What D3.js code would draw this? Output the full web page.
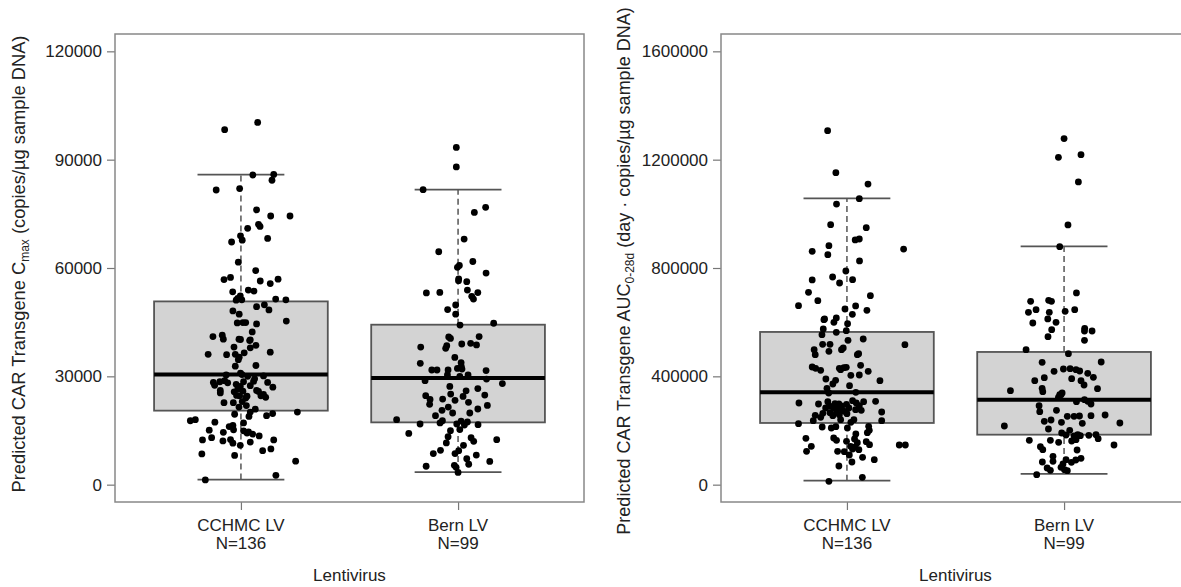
<!DOCTYPE html>
<html>
<head>
<meta charset="utf-8">
<script src="https://cdn.jsdelivr.net/npm/d3@7"></script>
<style>
  body { margin: 0; background: #fff; }
  text { font-family: "Liberation Sans", Arial, sans-serif; fill: #222; }
</style>
</head>
<body>
<script>
var W = 1181, H = 587;

var categories = ["CCHMC LV", "Bern LV"];
var counts = [136, 99];
var cmaxTicks = [0, 30000, 60000, 90000, 120000];
var aucTicks = [0, 400000, 800000, 1200000, 1600000];

// [lower whisker, Q1, median, Q3, upper whisker]
var cmaxStats = [[1400, 20500, 30500, 50750, 85850], [3500, 17250, 29550, 44300, 81700]];
var aucStats = [[14800, 227800, 340900, 563900, 1057000], [39500, 184600, 313900, 490000, 880000]];

// [jitter (category units), value]
var cmaxCchmc = [[0.077,100300],[-0.075,98300],[0.055,85750],[0.151,85900],[0.143,84300],[-0.114,81600],[-0.006,82000],[0.072,76100],[0.137,74400],[0.226,74400],
  [0.031,71000],[0.081,72100],[0.088,71500],[-0.002,68900],[0.006,67700],[-0.043,67200],[0.123,68200],[-0.012,61600],[0.068,59300],[-0.078,56800],
  [-0.048,57400],[0.089,56400],[0.135,55700],[0.171,56900],[-0.038,53400],[0.034,53900],[0.060,53600],[-0.003,52300],[-0.015,51600],[-0.022,51100],
  [0.160,51400],[0.207,51200],[0.072,49300],[0.108,49800],[0.129,48400],[-0.037,48100],[-0.008,47200],[-0.017,44800],[0.009,44900],[0.022,44900],
  [0.072,44500],[0.209,45300],[0.052,42300],[-0.129,41000],[-0.086,41400],[-0.081,40300],[-0.009,40300],[-0.002,40200],[0.040,39900],[0.069,38600],
  [-0.032,38100],[0.043,37900],[-0.151,36100],[-0.066,36000],[-0.026,36100],[-0.008,35300],[0.015,36500],[0.135,36700],[-0.012,34600],[0.069,33000],
  [-0.068,30400],[-0.002,30900],[0.031,30000],[0.063,29300],[0.104,30100],[-0.127,28300],[-0.097,28500],[-0.075,28800],[-0.121,27500],[-0.022,27800],
  [0.012,28500],[0.043,27400],[0.123,28300],[0.147,27000],[-0.095,26100],[-0.031,25700],[-0.014,26500],[0.009,25900],[0.072,26100],[0.092,24600],
  [0.104,25000],[0.114,24200],[-0.020,24700],[-0.006,24600],[0.028,24500],[-0.078,22700],[-0.035,22700],[0.006,23000],[-0.009,21500],[0.025,21900],
  [0.043,20100],[0.066,20900],[-0.029,19500],[0.118,19100],[0.146,19700],[0.260,20100],[-0.233,17700],[-0.210,18000],[-0.120,17300],[-0.054,16100],
  [-0.037,16400],[-0.146,15100],[-0.081,14500],[0.012,14900],[0.035,14600],[0.054,14000],[0.084,13500],[-0.177,12400],[-0.135,13000],[-0.083,12100],
  [-0.048,12500],[-0.003,10900],[0.043,11800],[0.151,12400],[-0.037,11500],[0.100,9400],[0.138,9900],[-0.180,8500],[-0.029,8100],[0.252,6500],
  [0.161,2600],[-0.164,1300],[0.005,30500],[-0.061,28200],[0.022,24000],[-0.003,27200],[0.058,28600],[-0.026,32800],[0.037,18900],[0.012,17100],
  [0.004,51200],[0.043,40100],[0.081,25800],[-0.095,25400],[0.028,14300],[-0.034,15200]];

var cmaxBern = [[-0.008,93400],[-0.008,88000],[-0.161,81700],[0.127,76800],[0.075,75400],[0.028,68000],[-0.089,64500],[0.068,61800],[0.006,60700],[-0.003,60200],
  [0.129,58600],[0.003,57000],[0.002,56500],[0.040,56200],[0.043,53900],[0.091,53200],[-0.146,53100],[-0.084,53250],[0.063,52150],[0.071,51400],
  [-0.011,49750],[-0.048,48500],[-0.011,47200],[0.009,44200],[0.164,44700],[-0.043,40900],[-0.035,40500],[0.017,38950],[0.058,39150],[0.097,41000],
  [0.085,38700],[-0.052,38500],[-0.057,37750],[-0.172,38100],[-0.015,35250],[0.014,33800],[-0.174,33600],[-0.121,31750],[-0.097,31750],[-0.046,31750],
  [-0.003,32200],[0.018,32000],[0.129,31600],[-0.049,30400],[0.046,30400],[-0.152,28800],[0.131,29250],[0.204,28000],[0.037,26000],[0.091,26600],
  [0.123,24800],[-0.149,24650],[-0.129,23600],[-0.071,23700],[-0.034,25100],[-0.014,23350],[0.048,22800],[0.135,21950],[-0.131,22250],[-0.045,21500],
  [0.091,20950],[-0.074,20600],[-0.025,19850],[-0.104,19100],[-0.283,18000],[-0.175,16800],[-0.083,17100],[-0.072,17700],[-0.006,16800],[0.014,17600],
  [0.029,16500],[0.043,17350],[0.092,16600],[-0.227,14200],[-0.035,14950],[-0.046,13300],[0.060,13000],[0.072,12000],[0.178,12450],[0.025,10900],
  [0.003,9400],[-0.081,9500],[-0.114,8600],[-0.014,8600],[0.084,8200],[0.040,7200],[0.146,6450],[0.049,5650],[-0.147,5100],[-0.017,5350],
  [0.000,3400],[-0.009,4800],[0.008,30000],[-0.038,27200],[0.023,24450],[0.008,15250],[0.054,19850],[-0.054,11550],[0.015,32750]];

var aucCchmc = [[-0.089,1307000],[-0.051,1152000],[0.097,1110000],[0.057,1056000],[-0.048,1036000],[-0.075,960000],[0.089,949000],[0.038,903500],[0.057,907000],[-0.083,882500],
  [0.261,870000],[-0.160,861600],[-0.088,849300],[0.058,826000],[-0.005,789000],[-0.066,766800],[-0.034,744700],[0.026,757000],[-0.160,755800],[-0.177,710200],
  [0.108,697900],[-0.134,679500],[-0.223,661000],[0.040,659800],[-0.009,648700],[0.092,643800],[0.025,629000],[-0.049,615500],[-0.103,611800],[0.003,594500],
  [-0.060,599400],[-0.109,574800],[-0.049,562500],[-0.003,568700],[-0.115,553900],[0.005,533000],[0.075,537900],[0.267,517000],[-0.112,518200],[-0.078,518200],
  [-0.151,498500],[-0.146,480100],[-0.083,492400],[-0.025,498500],[-0.017,504700],[0.048,480100],[0.054,483700],[-0.160,434500],[-0.144,429600],[-0.121,422200],
  [-0.035,429600],[-0.014,432000],[-0.003,433300],[0.063,440700],[0.098,418500],[0.018,403700],[0.057,405000],[-0.097,390200],[-0.052,385300],[0.152,384000],
  [-0.065,371700],[0.012,365600],[-0.092,355700],[0.041,341000],[-0.084,338500],[-0.221,301600],[-0.131,297900],[-0.088,306500],[-0.055,299100],[-0.037,297900],
  [-0.026,290500],[-0.002,296600],[0.026,310200],[0.043,301600],[0.057,291700],[0.077,306500],[0.132,307700],[-0.060,283100],[-0.048,267100],[-0.012,270800],
  [0.040,277000],[0.066,274500],[-0.111,263400],[-0.078,265900],[-0.146,256000],[-0.121,248600],[-0.065,254800],[-0.035,258500],[0.000,262200],[0.160,268300],
  [-0.155,236300],[0.018,230200],[0.160,236300],[-0.223,225300],[-0.114,212900],[-0.072,209300],[-0.051,214200],[0.100,215400],[0.094,192000],[0.103,200600],
  [0.041,187100],[-0.189,171100],[-0.061,172300],[-0.048,163700],[-0.002,160000],[0.035,168600],[0.048,155100],[0.089,158800],[-0.164,141600],[-0.186,123100],
  [-0.043,123100],[-0.012,121900],[0.026,131700],[0.038,139100],[0.104,147700],[0.241,146500],[0.269,146500],[0.011,109500],[0.072,100900],[0.126,92300],
  [0.023,83700],[-0.037,68900],[-0.083,12300],[0.071,27100],[-0.045,283100],[-0.022,277000],[0.009,283100],[-0.075,289300],[-0.029,240000],[0.032,240000],
  [0.002,209300],[-0.106,609300],[-0.029,424700],[0.017,141600],[0.055,129200],[-0.098,283100]];

var aucBern = [[0.000,1277700],[-0.026,1208700],[0.078,1218600],[0.066,1117700],[0.018,958900],[-0.020,878900],[0.057,707800],[-0.154,677000],[-0.071,680700],[-0.058,677000],
  [-0.164,636400],[-0.129,646200],[-0.068,636400],[0.005,640100],[0.049,646200],[-0.144,597000],[-0.075,611800],[-0.037,599400],[-0.057,572400],[0.095,577300],
  [0.129,567400],[0.094,567400],[-0.074,546500],[0.094,533000],[-0.175,498500],[0.020,483700],[-0.101,451700],[0.171,453000],[-0.046,418500],[-0.003,427100],
  [0.028,428300],[0.055,424700],[0.072,419700],[0.109,411100],[0.135,396300],[-0.091,395100],[-0.135,384000],[0.035,391400],[0.078,384000],[0.092,368000],
  [0.154,354500],[-0.247,347100],[-0.101,355700],[-0.098,343400],[-0.020,332300],[-0.009,338500],[-0.026,322500],[0.057,306500],[0.094,313900],[0.109,307700],
  [0.124,297900],[-0.115,291700],[-0.112,269600],[-0.035,274500],[0.015,252300],[0.046,252300],[0.071,253600],[0.124,254800],[0.189,257300],[-0.091,233900],
  [-0.060,238800],[-0.012,230200],[0.084,226500],[0.257,227700],[-0.275,216600],[-0.072,205600],[0.026,200600],[-0.011,190800],[0.009,183400],[0.046,179700],
  [0.063,184600],[0.075,180900],[0.114,182200],[0.147,184600],[0.157,169900],[-0.160,163700],[-0.063,163700],[-0.025,156300],[0.035,161200],[0.230,146500],
  [-0.109,140300],[-0.098,129200],[0.060,128000],[-0.051,104600],[0.078,97200],[0.054,91100],[0.009,92300],[-0.051,86200],[-0.100,83700],[-0.005,76300],
  [0.034,82500],[-0.078,61500],[-0.063,52900],[-0.014,64000],[0.015,51700],[-0.126,36900],[0.002,55400],[-0.014,332300],[0.055,166200]];

var svg = d3.select("body").append("svg").attr("width", W).attr("height", H);

function panel(left, right, ticks, stats, groups, labelParts) {
  var top = 34, bottom = 502;
  var pad = (ticks[ticks.length - 1] - ticks[0]) * 0.04;
  var x = d3.scaleLinear().domain([0.42, 2.58]).range([left, right]);
  var y = d3.scaleLinear().domain([ticks[0] - pad, ticks[ticks.length - 1] + pad]).range([bottom, top]);
  var g = svg.append("g");

  // y axis
  var ya = g.append("g").attr("transform", "translate(" + left + ",0)")
    .call(d3.axisLeft(y).tickValues(ticks).tickSize(8).tickPadding(5).tickFormat(d3.format("d")));
  ya.select(".domain").remove();
  ya.selectAll("line").attr("stroke", "#777").attr("stroke-width", 1.2);
  ya.selectAll("text").style("font-size", "17px").attr("fill", "#222");

  // x axis
  var xa = g.append("g").attr("transform", "translate(0," + bottom + ")")
    .call(d3.axisBottom(x).tickValues([1, 2]).tickSize(8).tickFormat(""));
  xa.select(".domain").remove();
  xa.selectAll("line").attr("stroke", "#777").attr("stroke-width", 1.2);

  categories.forEach(function (c, i) {
    g.append("text").attr("x", x(i + 1)).attr("y", 531).attr("text-anchor", "middle")
      .style("font-size", "17px").text(c);
    g.append("text").attr("x", x(i + 1)).attr("y", 549).attr("text-anchor", "middle")
      .style("font-size", "17px").text("N=" + counts[i]);
  });
  g.append("text").attr("x", (left + right) / 2).attr("y", 581).attr("text-anchor", "middle")
    .style("font-size", "17px").text("Lentivirus");

  // boxes
  stats.forEach(function (s, i) {
    var c = i + 1;
    g.append("line").attr("x1", x(c)).attr("x2", x(c)).attr("y1", y(s[3])).attr("y2", y(s[4]))
      .attr("stroke", "#555").attr("stroke-width", 1.5).attr("stroke-dasharray", "6,4");
    g.append("line").attr("x1", x(c)).attr("x2", x(c)).attr("y1", y(s[0])).attr("y2", y(s[1]))
      .attr("stroke", "#555").attr("stroke-width", 1.5).attr("stroke-dasharray", "6,4");
    [s[0], s[4]].forEach(function (v) {
      g.append("line").attr("x1", x(c - 0.2)).attr("x2", x(c + 0.2)).attr("y1", y(v)).attr("y2", y(v))
        .attr("stroke", "#555").attr("stroke-width", 1.8);
    });
    g.append("rect").attr("x", x(c - 0.4)).attr("width", x(c + 0.4) - x(c - 0.4))
      .attr("y", y(s[3])).attr("height", y(s[1]) - y(s[3]))
      .attr("fill", "#d3d3d3").attr("stroke", "#555").attr("stroke-width", 1.8);
    g.append("line").attr("x1", x(c - 0.4)).attr("x2", x(c + 0.4)).attr("y1", y(s[2])).attr("y2", y(s[2]))
      .attr("stroke", "#000").attr("stroke-width", 4);
  });

  // points
  groups.forEach(function (pts, i) {
    g.selectAll(null).data(pts).enter().append("circle")
      .attr("cx", function (d) { return x(i + 1 + d[0]); })
      .attr("cy", function (d) { return y(d[1]); })
      .attr("r", 3.4).attr("fill", "#000");
  });

  // frame
  g.append("rect").attr("x", left).attr("y", top).attr("width", right - left).attr("height", bottom - top)
    .attr("fill", "none").attr("stroke", "#888").attr("stroke-width", 1.5);

  // y label
  var lab = g.append("text").attr("transform", "translate(" + labelParts.x + "," + labelParts.cy + ") rotate(-90)")
    .attr("text-anchor", "middle").style("font-size", labelParts.size + "px");
  lab.append("tspan").text(labelParts.a);
  lab.append("tspan").attr("dy", 4).style("font-size", "12px").text(labelParts.sub);
  lab.append("tspan").attr("dy", -4).text(labelParts.b);
}

panel(115, 584, cmaxTicks, cmaxStats, [cmaxCchmc, cmaxBern],
  { x: 25, cy: 264, size: 18.3, a: "Predicted CAR Transgene C", sub: "max", b: " (copies/\u00b5g sample DNA)" });
panel(721, 1190, aucTicks, aucStats, [aucCchmc, aucBern],
  { x: 630, cy: 271, size: 18, a: "Predicted CAR Transgene AUC", sub: "0-28d", b: " (day \u00b7 copies/\u00b5g sample DNA)" });
</script>
</body>
</html>
